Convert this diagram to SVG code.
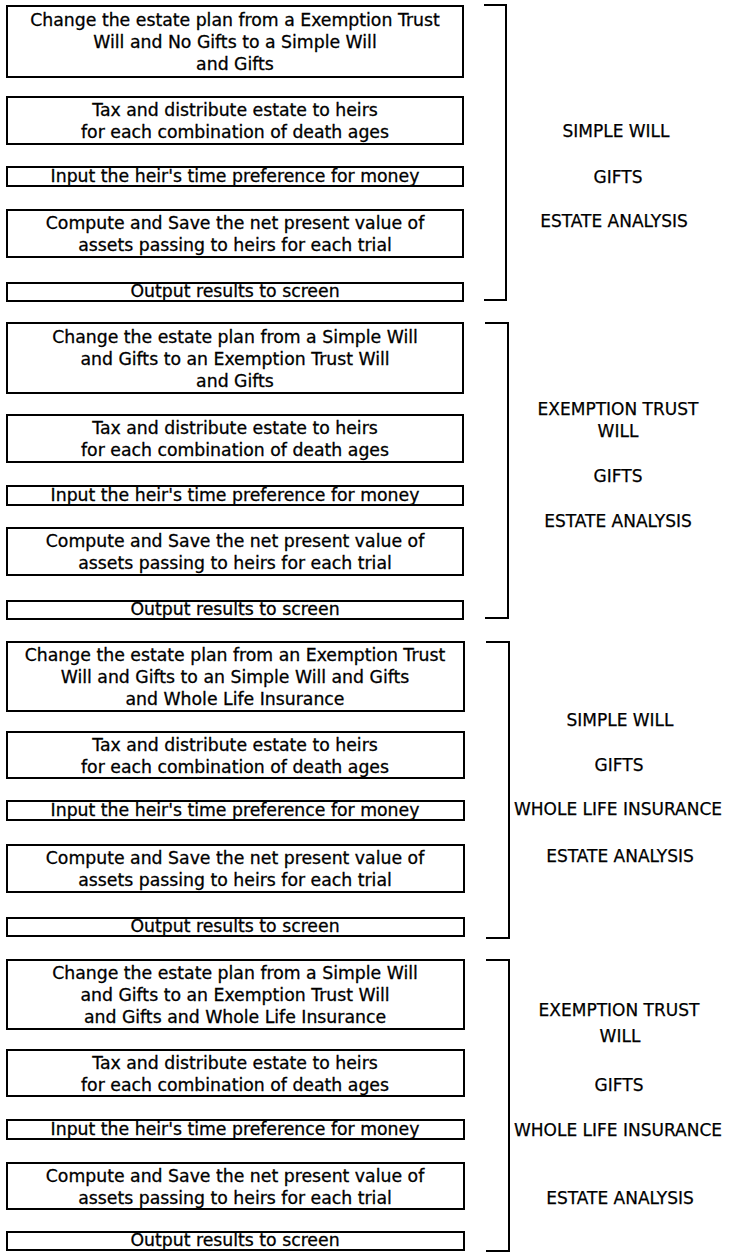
<svg xmlns="http://www.w3.org/2000/svg" width="729" height="1253" viewBox="0 0 729 1253">
<style>
.box{fill:#fff;stroke:#000;stroke-width:2}
.t{font-family:"DejaVu Sans","Liberation Sans",sans-serif;font-size:17.3px;fill:#000;stroke:#000;stroke-width:0.3;text-anchor:middle}
.lbl{font-family:"DejaVu Sans","Liberation Sans",sans-serif;font-size:17px;fill:#000;stroke:#000;stroke-width:0.25;text-anchor:middle}
.br{fill:none;stroke:#000;stroke-width:2}
</style>
<rect width="729" height="1253" fill="#fff"/>

<!-- Section 1 -->
<g id="s1-change"><rect class="box" x="7" y="6" width="456" height="71"/>
<text class="t" x="235" y="26">Change the estate plan from a Exemption Trust</text>
<text class="t" x="235" y="48">Will and No Gifts to a Simple Will</text>
<text class="t" x="235" y="70">and Gifts</text></g>
<g id="s1-tax"><rect class="box" x="7" y="97" width="456" height="47"/>
<text class="t" x="235" y="116">Tax and distribute estate to heirs</text>
<text class="t" x="235" y="138">for each combination of death ages</text></g>
<g id="s1-input"><rect class="box" x="7" y="167" width="456" height="19"/>
<text class="t" x="235" y="182">Input the heir's time preference for money</text></g>
<g id="s1-compute"><rect class="box" x="7" y="210" width="456" height="47"/>
<text class="t" x="235" y="229">Compute and Save the net present value of</text>
<text class="t" x="235" y="251">assets passing to heirs for each trial</text></g>
<g id="s1-output"><rect class="box" x="7" y="283" width="456" height="18"/>
<text class="t" x="235" y="297">Output results to screen</text></g>
<g id="s1-labels">
<text class="lbl" x="616" y="137">SIMPLE WILL</text>
<text class="lbl" x="618" y="183">GIFTS</text>
<text class="lbl" x="614" y="227">ESTATE ANALYSIS</text></g>

<!-- Section 2 -->
<g id="s2-change"><rect class="box" x="7" y="323" width="456" height="70"/>
<text class="t" x="235" y="343">Change the estate plan from a Simple Will</text>
<text class="t" x="235" y="365">and Gifts to an Exemption Trust Will</text>
<text class="t" x="235" y="387">and Gifts</text></g>
<g id="s2-tax"><rect class="box" x="7" y="415" width="456" height="47"/>
<text class="t" x="235" y="434">Tax and distribute estate to heirs</text>
<text class="t" x="235" y="456">for each combination of death ages</text></g>
<g id="s2-input"><rect class="box" x="7" y="486" width="456" height="19"/>
<text class="t" x="235" y="501">Input the heir's time preference for money</text></g>
<g id="s2-compute"><rect class="box" x="7" y="528" width="456" height="47"/>
<text class="t" x="235" y="547">Compute and Save the net present value of</text>
<text class="t" x="235" y="569">assets passing to heirs for each trial</text></g>
<g id="s2-output"><rect class="box" x="7" y="601" width="456" height="18"/>
<text class="t" x="235" y="615">Output results to screen</text></g>
<g id="s2-labels">
<text class="lbl" x="618" y="415">EXEMPTION TRUST</text>
<text class="lbl" x="618" y="437">WILL</text>
<text class="lbl" x="618" y="482">GIFTS</text>
<text class="lbl" x="618" y="527">ESTATE ANALYSIS</text></g>

<!-- Section 3 -->
<g id="s3-change"><rect class="box" x="7" y="642" width="457" height="69"/>
<text class="t" x="235" y="661">Change the estate plan from an Exemption Trust</text>
<text class="t" x="235" y="683">Will and Gifts to an Simple Will and Gifts</text>
<text class="t" x="235" y="705">and Whole Life Insurance</text></g>
<g id="s3-tax"><rect class="box" x="7" y="732" width="457" height="46"/>
<text class="t" x="235" y="751">Tax and distribute estate to heirs</text>
<text class="t" x="235" y="773">for each combination of death ages</text></g>
<g id="s3-input"><rect class="box" x="7" y="801" width="457" height="19"/>
<text class="t" x="235" y="816">Input the heir's time preference for money</text></g>
<g id="s3-compute"><rect class="box" x="7" y="845" width="457" height="47"/>
<text class="t" x="235" y="864">Compute and Save the net present value of</text>
<text class="t" x="235" y="886">assets passing to heirs for each trial</text></g>
<g id="s3-output"><rect class="box" x="7" y="918" width="457" height="18"/>
<text class="t" x="235" y="932">Output results to screen</text></g>
<g id="s3-labels">
<text class="lbl" x="620" y="726">SIMPLE WILL</text>
<text class="lbl" x="619" y="771">GIFTS</text>
<text class="lbl" x="618" y="815">WHOLE LIFE INSURANCE</text>
<text class="lbl" x="620" y="862">ESTATE ANALYSIS</text></g>

<!-- Section 4 -->
<g id="s4-change"><rect class="box" x="7" y="960" width="457" height="69"/>
<text class="t" x="235" y="979">Change the estate plan from a Simple Will</text>
<text class="t" x="235" y="1001">and Gifts to an Exemption Trust Will</text>
<text class="t" x="235" y="1023">and Gifts and Whole Life Insurance</text></g>
<g id="s4-tax"><rect class="box" x="7" y="1050" width="457" height="46"/>
<text class="t" x="235" y="1069">Tax and distribute estate to heirs</text>
<text class="t" x="235" y="1091">for each combination of death ages</text></g>
<g id="s4-input"><rect class="box" x="7" y="1120" width="457" height="19"/>
<text class="t" x="235" y="1135">Input the heir's time preference for money</text></g>
<g id="s4-compute"><rect class="box" x="7" y="1163" width="457" height="46"/>
<text class="t" x="235" y="1182">Compute and Save the net present value of</text>
<text class="t" x="235" y="1204">assets passing to heirs for each trial</text></g>
<g id="s4-output"><rect class="box" x="7" y="1232" width="457" height="18"/>
<text class="t" x="235" y="1246">Output results to screen</text></g>
<g id="s4-labels">
<text class="lbl" x="619" y="1016">EXEMPTION TRUST</text>
<text class="lbl" x="620" y="1042">WILL</text>
<text class="lbl" x="619" y="1091">GIFTS</text>
<text class="lbl" x="618" y="1136">WHOLE LIFE INSURANCE</text>
<text class="lbl" x="620" y="1204">ESTATE ANALYSIS</text></g>

<g id="connectors">
<path id="bracket1" class="br" d="M484 5 H506 V300 H484"/>
<path id="bracket2" class="br" d="M485 323 H508 V618 H485"/>
<path id="bracket3" class="br" d="M486 642 H509 V938 H486"/>
<path id="bracket4" class="br" d="M486 960 H509 V1251 H486"/>
</g>
</svg>
